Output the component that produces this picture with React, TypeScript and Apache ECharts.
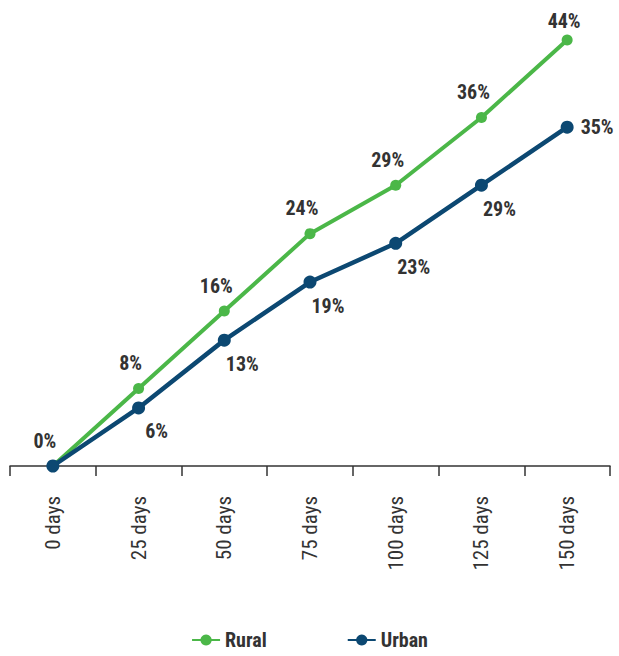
import React, { useEffect, useRef } from "react";
import * as echarts from "echarts";

const categories = ["0 days", "25 days", "50 days", "75 days", "100 days", "125 days", "150 days"];
const ruralValues = [0, 8, 16, 24, 29, 36, 44];
const urbanValues = [0, 6, 13, 19, 23, 29, 35];

const FONT = "'Roboto Condensed', 'Liberation Sans Narrow', 'DejaVu Sans Condensed', Roboto, sans-serif";
const GREEN = "#4BB748";
const NAVY = "#0C4872";

export default function App() {
  const ref = useRef<HTMLDivElement>(null);
  useEffect(() => {
    document.body.style.margin = "0";
    const chart = echarts.init(ref.current!, null, { renderer: "svg" });
    const urbanData = urbanValues.map((v, i) =>
      i === urbanValues.length - 1
        ? { value: v, label: { position: "right", offset: [2, 0] } }
        : i === 0
        ? { value: v, label: { show: false } }
        : v
    );
    const ruralData = ruralValues.map((v, i) =>
      i === ruralValues.length - 1 ? { value: v, label: { offset: [-3, 1] } } : v
    );
    chart.setOption({
      animation: false,
      textStyle: { fontFamily: FONT },
      grid: { left: 10, right: 9, top: 40, bottom: 190 },
      legend: {
        top: 630,
        left: "center",
        itemWidth: 28,
        itemHeight: 14,
        itemGap: 80,
        padding: 0,
        textStyle: { fontFamily: FONT, fontWeight: "bold", fontSize: 20, color: "#333", lineHeight: 20 },
        data: ["Rural", "Urban"],
      },
      xAxis: {
        type: "category",
        data: categories,
        boundaryGap: true,
        axisLine: { lineStyle: { color: "#333", width: 1.5 } },
        axisTick: { show: true, length: 10, lineStyle: { color: "#333", width: 1.5 } },
        axisLabel: {
          rotate: 90,
          margin: 30,
          fontFamily: FONT,
          fontSize: 21,
          color: "#333",
        },
      },
      yAxis: {
        type: "value",
        min: 0,
        max: 44,
        show: false,
        splitLine: { show: false },
      },
      series: [
        {
          name: "Rural",
          type: "line",
          data: ruralData,
          color: GREEN,
          lineStyle: { width: 4, color: GREEN },
          symbol: "circle",
          symbolSize: 11,
          z: 2,
          label: {
            show: true,
            position: "top",
            offset: [-8, -5],
            formatter: "{c}%",
            fontFamily: FONT,
            fontWeight: "bold",
            fontSize: 20,
            color: "#333",
          },
        },
        {
          name: "Urban",
          type: "line",
          data: urbanData,
          color: NAVY,
          lineStyle: { width: 4.5, color: NAVY },
          symbol: "circle",
          symbolSize: 13,
          z: 3,
          label: {
            show: true,
            position: "bottom",
            offset: [18, 2],
            formatter: "{c}%",
            fontFamily: FONT,
            fontWeight: "bold",
            fontSize: 20,
            color: "#333",
          },
        },
      ],
    });
    return () => chart.dispose();
  }, []);
  return <div ref={ref} style={{ width: 619, height: 656 }} />;
}
